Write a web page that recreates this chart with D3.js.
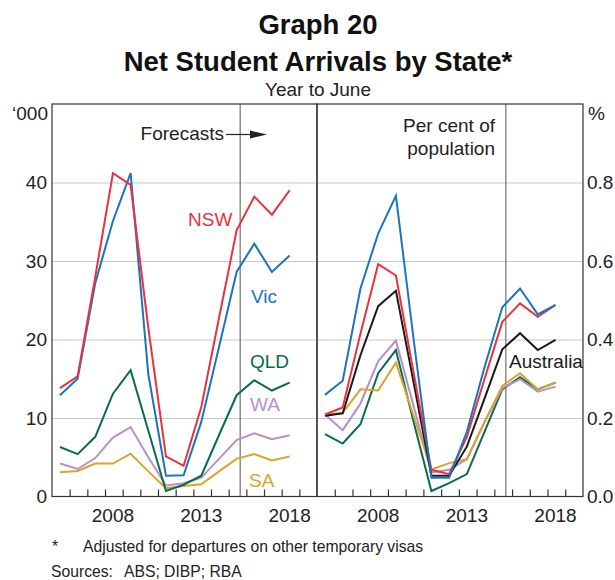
<!DOCTYPE html>
<html>
<head>
<meta charset="utf-8">
<script src="https://cdn.jsdelivr.net/npm/d3@7"></script>
<style>
  body { margin: 0; background: #fff; }
  svg { font-family: "Liberation Sans", Arial, Helvetica, sans-serif; }
  .domain { display: none; }
</style>
</head>
<body>
<svg id="myGraph" width="615" height="580"></svg>
<script>
//データ（年はYear to June）
var years = [2005, 2006, 2007, 2008, 2009, 2010, 2011, 2012, 2013, 2014, 2015, 2016, 2017, 2018];

//左パネル：'000
var nsw = [13.8, 15.3, 28.0, 41.2, 39.7, 21.5, 5.1, 3.9, 11.4, 22.7, 33.9, 38.2, 35.9, 39.0];
var vic = [12.9, 15.0, 27.2, 35.1, 41.2, 15.6, 2.65, 2.7, 9.5, 19.0, 28.6, 32.2, 28.6, 30.7];
var qld = [6.3, 5.4, 7.6, 13.1, 16.1, 8.4, 0.7, 1.5, 2.65, 7.8, 12.9, 14.8, 13.5, 14.5];
var wa = [4.2, 3.5, 4.9, 7.5, 8.85, 5.0, 1.4, 1.7, 2.4, 4.8, 7.2, 8.05, 7.3, 7.8];
var sa = [3.1, 3.25, 4.2, 4.2, 5.45, 3.2, 1.05, 1.35, 1.55, 3.2, 4.8, 5.4, 4.6, 5.1];

//右パネル：人口比（%）
var vicPct = [0.259, 0.295, 0.53, 0.67, 0.766, 0.40, 0.048, 0.048, 0.165, 0.33, 0.482, 0.53, 0.464, 0.488];
var nswPct = [0.209, 0.227, 0.415, 0.592, 0.563, 0.315, 0.068, 0.057, 0.152, 0.30, 0.445, 0.492, 0.458, 0.488];
var ausPct = [0.206, 0.212, 0.36, 0.485, 0.524, 0.29, 0.053, 0.053, 0.127, 0.25, 0.375, 0.416, 0.373, 0.399];
var waPct = [0.209, 0.169, 0.237, 0.345, 0.397, 0.23, 0.061, 0.068, 0.095, 0.19, 0.276, 0.299, 0.267, 0.28];
var qldPct = [0.159, 0.135, 0.184, 0.314, 0.373, 0.19, 0.014, 0.034, 0.057, 0.165, 0.273, 0.304, 0.273, 0.29];
var saPct = [0.208, 0.213, 0.273, 0.27, 0.341, 0.205, 0.069, 0.085, 0.095, 0.19, 0.282, 0.314, 0.273, 0.29];

//目盛り
var leftTicks = [0, 10, 20, 30, 40];
var rightTicks = [0, 0.2, 0.4, 0.6, 0.8];
var yearLabels = [2008, 2013, 2018];
var forecastStart = 2015.65;

var colors = {
  nsw: '#e9323e', vic: '#1b75bb', qld: '#0a6b4f',
  wa: '#b591c8', sa: '#d6a62b', aus: '#1a1a1a'
};

var svg = d3.select('#myGraph');
var plotTop = 104, plotBottom = 496.5;
var panels = [[52, 317], [317, 583]];
var textColor = '#222';

//タイトル
svg.append('text').attr('x', 318).attr('y', 34).attr('text-anchor', 'middle')
  .style('font-size', '27.5px').style('font-weight', 'bold').attr('fill', '#111').text('Graph 20');
svg.append('text').attr('x', 318).attr('y', 71).attr('text-anchor', 'middle')
  .style('font-size', '27.5px').style('font-weight', 'bold').attr('fill', '#111').text('Net Student Arrivals by State*');
svg.append('text').attr('x', 318).attr('y', 96).attr('text-anchor', 'middle')
  .style('font-size', '19px').attr('fill', textColor).text('Year to June');

//スケール
var yLeft = d3.scaleLinear().domain([0, 50]).range([plotBottom, plotTop]);
var yRight = d3.scaleLinear().domain([0, 1.0]).range([plotBottom, plotTop]);
var xScales = panels.map(function(p) {
  return d3.scaleLinear().domain([2005, 2020]).range(p);
});

//グリッド線
svg.append('g')
  .attr('transform', 'translate(' + panels[0][0] + ',0)')
  .call(d3.axisRight(yLeft).tickValues([10, 20, 30, 40]).tickSize(panels[1][1] - panels[0][0]).tickFormat(''))
  .selectAll('line').attr('stroke', '#c9c9c9').attr('stroke-width', 1);

//予測期間の縦線
xScales.forEach(function(x) {
  svg.append('line')
    .attr('x1', x(forecastStart)).attr('x2', x(forecastStart))
    .attr('y1', plotTop).attr('y2', plotBottom)
    .attr('stroke', '#555').attr('stroke-width', 1);
});

//折れ線
function drawLine(x, y, values, color) {
  var line = d3.line()
    .x(function(d, i) { return x(years[i] + 0.45); })
    .y(function(d) { return y(d); });
  svg.append('path')
    .datum(values)
    .attr('d', line)
    .attr('fill', 'none')
    .attr('stroke', color)
    .attr('stroke-width', 2)
    .attr('stroke-linejoin', 'miter');
}

drawLine(xScales[0], yLeft, sa, colors.sa);
drawLine(xScales[0], yLeft, wa, colors.wa);
drawLine(xScales[0], yLeft, qld, colors.qld);
drawLine(xScales[0], yLeft, vic, colors.vic);
drawLine(xScales[0], yLeft, nsw, colors.nsw);

drawLine(xScales[1], yRight, qldPct, colors.qld);
drawLine(xScales[1], yRight, waPct, colors.wa);
drawLine(xScales[1], yRight, saPct, colors.sa);
drawLine(xScales[1], yRight, ausPct, colors.aus);
drawLine(xScales[1], yRight, nswPct, colors.nsw);
drawLine(xScales[1], yRight, vicPct, colors.vic);

//枠と年の目盛り
xScales.forEach(function(x, k) {
  svg.append('rect')
    .attr('x', panels[k][0]).attr('y', plotTop)
    .attr('width', panels[k][1] - panels[k][0]).attr('height', plotBottom - plotTop)
    .attr('fill', 'none').attr('stroke', '#333').attr('stroke-width', 1.2);

  svg.append('g')
    .attr('transform', 'translate(0,' + plotBottom + ')')
    .call(d3.axisBottom(x).tickValues(d3.range(2006, 2020)).tickSize(-7).tickFormat(''))
    .selectAll('line').attr('stroke', '#333').attr('stroke-width', 1.2);

  svg.append('g')
    .selectAll('text')
    .data(yearLabels)
    .enter()
    .append('text')
    .attr('x', function(d) { return x(d + 0.45); })
    .attr('y', 522)
    .attr('text-anchor', 'middle')
    .style('font-size', '19px')
    .attr('fill', textColor)
    .text(function(d) { return d; });
});

//Y軸ラベル
var axisL = svg.append('g')
  .attr('transform', 'translate(' + panels[0][0] + ',0)')
  .call(d3.axisLeft(yLeft).tickValues(leftTicks).tickSize(0).tickPadding(5));
axisL.selectAll('text').style('font-size', '19px').attr('fill', textColor)
  .style('font-family', '"Liberation Sans", Arial, sans-serif');

var axisR = svg.append('g')
  .attr('transform', 'translate(' + panels[1][1] + ',0)')
  .call(d3.axisRight(yRight).tickValues(rightTicks).tickSize(0).tickPadding(4).tickFormat(d3.format('.1f')));
axisR.selectAll('text').style('font-size', '19px').attr('fill', textColor)
  .style('font-family', '"Liberation Sans", Arial, sans-serif');

svg.append('text').attr('x', 48).attr('y', 120).attr('text-anchor', 'end')
  .style('font-size', '19px').attr('fill', textColor).text('\u2018000');
svg.append('text').attr('x', 588).attr('y', 120)
  .style('font-size', '19px').attr('fill', textColor).text('%');

//系列ラベル
var labels = [
  { text: 'NSW', x: 188, y: 226, color: colors.nsw },
  { text: 'Vic', x: 251, y: 303, color: colors.vic },
  { text: 'QLD', x: 250, y: 368, color: colors.qld },
  { text: 'WA', x: 250, y: 411, color: colors.wa },
  { text: 'SA', x: 249, y: 487, color: colors.sa },
  { text: 'Australia', x: 509, y: 368, color: colors.aus }
];
svg.append('g')
  .selectAll('text')
  .data(labels)
  .enter()
  .append('text')
  .attr('x', function(d) { return d.x; })
  .attr('y', function(d) { return d.y; })
  .style('font-size', '19px')
  .attr('fill', function(d) { return d.color; })
  .text(function(d) { return d.text; });

//注記
svg.append('text').attr('x', 224).attr('y', 140).attr('text-anchor', 'end')
  .style('font-size', '19px').attr('fill', textColor).text('Forecasts');
svg.append('line').attr('x1', 226).attr('x2', 252).attr('y1', 134.5).attr('y2', 134.5)
  .attr('stroke', '#222').attr('stroke-width', 1.2);
svg.append('path').attr('d', 'M250,130.5 L267,134.5 L250,138.5 Z').attr('fill', '#222');

svg.append('text').attr('x', 495).attr('y', 132).attr('text-anchor', 'end')
  .style('font-size', '19px').attr('fill', textColor).text('Per cent of');
svg.append('text').attr('x', 495).attr('y', 155).attr('text-anchor', 'end')
  .style('font-size', '19px').attr('fill', textColor).text('population');

//脚注
svg.append('text').attr('x', 52).attr('y', 552)
  .style('font-size', '15.7px').attr('fill', textColor).text('*');
svg.append('text').attr('x', 83).attr('y', 552)
  .style('font-size', '15.7px').attr('fill', textColor).text('Adjusted for departures on other temporary visas');
svg.append('text').attr('x', 51).attr('y', 577)
  .style('font-size', '15.7px').attr('fill', textColor).text('Sources:');
svg.append('text').attr('x', 124).attr('y', 577)
  .style('font-size', '15.7px').attr('fill', textColor).text('ABS; DIBP; RBA');
</script>
</body>
</html>
